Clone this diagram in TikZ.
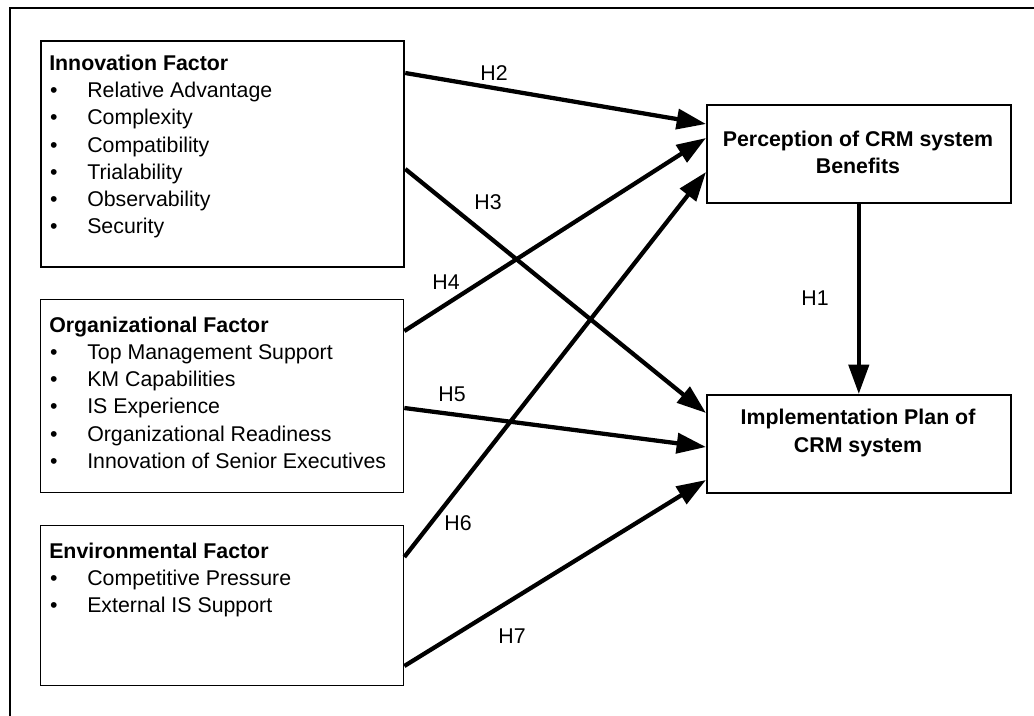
\documentclass[tikz,border=0pt]{standalone}
\usepackage{fontspec}
\setmainfont{Liberation Sans}
\usetikzlibrary{arrows.meta}
\newcommand\itm{\makebox[28.5pt][l]{\hspace{0.6pt}\textbullet}}
\begin{document}
\begin{tikzpicture}[x=0.75pt,y=-0.75pt,
  factorbox/.style={draw, line width=1pt, rectangle, anchor=north west, inner sep=0pt, minimum width=272.25pt},
  outbox/.style={draw, line width=1.2pt, rectangle, anchor=north west, inner sep=0pt, minimum width=228pt, minimum height=73.5pt},
  listtext/.style={anchor=north west, inner sep=0pt, align=left, font=\fontsize{16}{20.4}\selectfont},
  headtext/.style={anchor=north, inner sep=0pt, align=center},
  hyp/.style={line width=3.2pt, -{Triangle[length=22pt,width=15pt]}},
  hlabel/.style={inner sep=0pt, font=\fontsize{16}{19}\selectfont}]

\useasboundingbox (0,0) rectangle (1034,715);
\draw[line width=1.9pt, line join=miter] (10,716) -- (10,8) -- (1035,8);

% boxes
\node[factorbox, line width=1.7pt, minimum height=169.5pt] (inno) at (40,40) {};
\node[factorbox, minimum height=144.75pt] (org) at (40,299) {};
\node[factorbox, minimum height=120pt] (env) at (40,525) {};
\node[outbox] (perc) at (706,104) {};
\node[outbox] (impl) at (706,394) {};

% texts
\node[listtext] (innotext) at (49,54.7) {\textbf{Innovation Factor}\\
  \itm Relative Advantage\\
  \itm Complexity\\
  \itm Compatibility\\
  \itm Trialability\\
  \itm Observability\\
  \itm Security};
\node[listtext] (orgtext) at (49,316.5) {\textbf{Organizational Factor}\\
  \itm Top Management Support\\
  \itm KM Capabilities\\
  \itm IS Experience\\
  \itm Organizational Readiness\\
  \itm Innovation of Senior Executives};
\node[listtext] (envtext) at (49,542.4) {\textbf{Environmental Factor}\\
  \itm Competitive Pressure\\
  \itm External IS Support};
\node[headtext, font=\fontsize{16}{20}\selectfont\bfseries] (perctext) at (858,131.2)
  {Perception of CRM system\\Benefits};
\node[headtext, font=\fontsize{16}{21}\selectfont\bfseries] (impltext) at (858,408.8)
  {Implementation Plan of\\CRM system};

% ports
\path (inno.north east) ++(0,33) coordinate (i2);
\path (inno.north east) ++(0,129) coordinate (i3);
\path (org.north east) ++(0,32) coordinate (o4);
\path (org.north east) ++(0,109) coordinate (o5);
\path (env.north east) ++(0,32) coordinate (e6);
\path (env.north east) ++(0,141) coordinate (e7);
\path (perc.north west) ++(0,20) coordinate (p2);
\path (perc.north west) ++(0,34) coordinate (p4);
\path (perc.north west) ++(0,68) coordinate (p6);
\path (impl.north west) ++(0,19) coordinate (m3);
\path (impl.north west) ++(0,53) coordinate (m5);
\path (impl.north west) ++(0,86) coordinate (m7);

% connectors
\draw[hyp] (perc.south) -- (impl.north);
\draw[hyp] (i2) -- (p2);
\draw[hyp] (i3) -- (m3);
\draw[hyp] (o4) -- (p4);
\draw[hyp] (o5) -- (m5);
\draw[hyp] (e6) -- (p6);
\draw[hyp] (e7) -- (m7);

% labels
\node[hlabel] (h1) at (815,298) {H1};
\node[hlabel] (h2) at (494,73) {H2};
\node[hlabel] (h3) at (488,202) {H3};
\node[hlabel] (h4) at (446,282) {H4};
\node[hlabel] (h5) at (452,394) {H5};
\node[hlabel] (h6) at (458,523) {H6};
\node[hlabel] (h7) at (512,636) {H7};
\end{tikzpicture}
\end{document}
